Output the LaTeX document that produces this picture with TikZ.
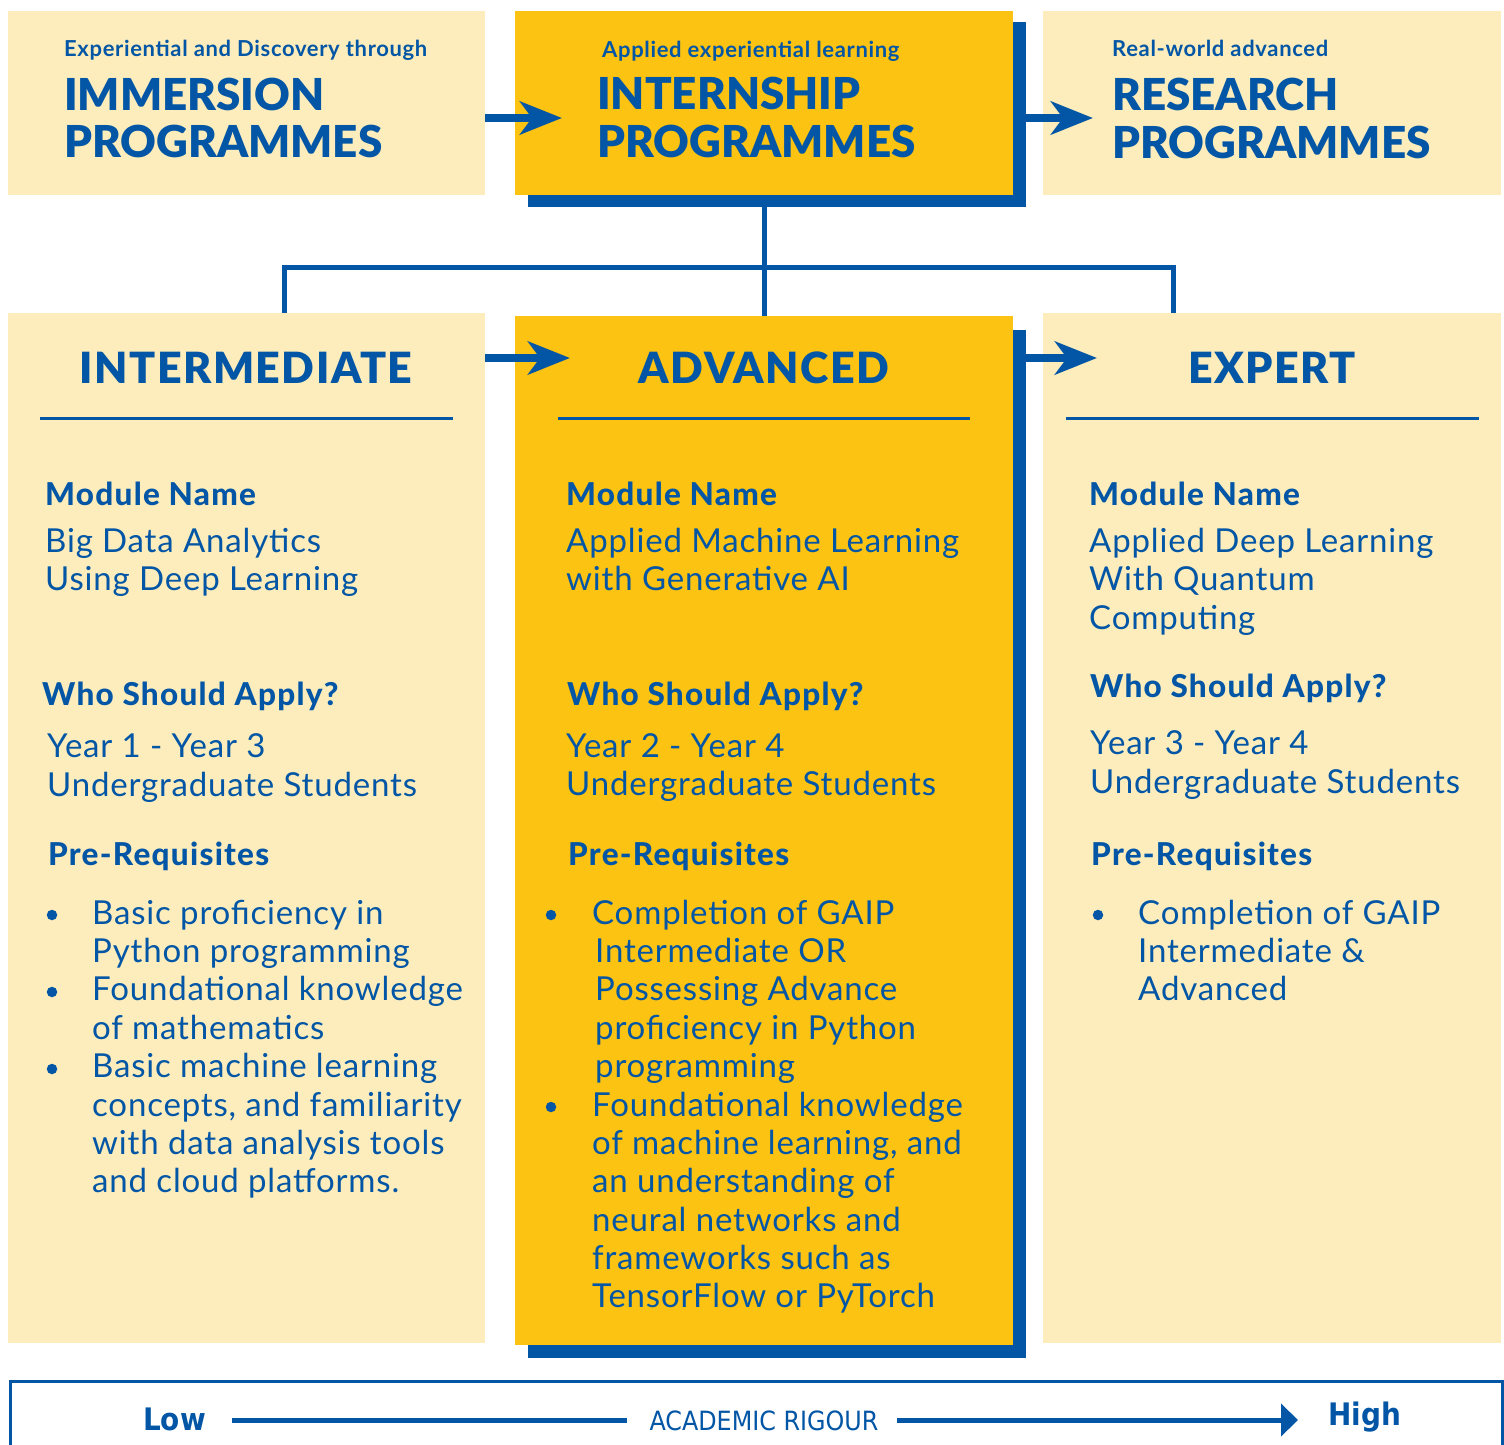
\documentclass[tikz,border=0pt]{standalone}
\usepackage{fontspec}
\usetikzlibrary{arrows.meta}
\setmainfont{Lato}
\IfFontExistsTF{Lato Black}{\newfontfamily\blackf{Lato Black}}{\newcommand\blackf{\bfseries}}
\IfFontExistsTF{Lato Heavy}{\newfontfamily\heavyf{Lato Heavy}[LetterSpace=4]}{\newfontfamily\heavyf{Lato}[LetterSpace=4]\let\oldheavyf\heavyf\renewcommand\heavyf{\oldheavyf\bfseries}}
\newfontfamily\bodyf{Lato}[LetterSpace=2.5]
\newfontfamily\subf{Lato}[LetterSpace=3]
\IfFontExistsTF{Lato Black}{\newfontfamily\colf{Lato Black}[LetterSpace=3.5]}{\newfontfamily\colf{Lato}[LetterSpace=3.5]}
\IfFontExistsTF{DejaVu Sans Condensed}{\newfontfamily\condf{DejaVu Sans Condensed}}{\newfontfamily\condf{Liberation Sans}}
\definecolor{lightyel}{HTML}{FDEDBC}
\definecolor{yel}{HTML}{FDC312}
\definecolor{myblue}{HTML}{0256A5}
\tikzset{
  lbox/.style={fill=lightyel, draw=none, anchor=north west, inner sep=0pt},
  ybox/.style={fill=yel, draw=none, anchor=north west, inner sep=0pt},
  shadowbox/.style={fill=myblue, draw=none, anchor=north west, inner sep=0pt},
  txt/.style={anchor=base west, inner sep=0pt, text=myblue},
  subt/.style={txt, font=\subf\bfseries\fontsize{22}{24}\selectfont},
  bigt/.style={txt, font=\blackf\fontsize{44}{48}\selectfont},
  colh/.style={anchor=base, inner sep=0pt, text=myblue, font=\colf\fontsize{43}{46}\selectfont},
  sech/.style={txt, font=\heavyf\fontsize{31.5}{36}\selectfont},
  body/.style={txt, font=\bodyf\fontsize{33}{38}\selectfont},
  dot/.style={circle, fill=myblue, draw=none, inner sep=0pt, minimum size=10.5pt},
  conn/.style={draw=myblue, line width=5pt},
  bigarrow/.style={draw=myblue, line width=8pt, -{Stealth[length=42pt, width=33pt, inset=12pt]}},
  rule/.style={draw=myblue, line width=3pt},
  axisline/.style={draw=myblue, line width=5pt},
}
\begin{document}
\begin{tikzpicture}[x=1pt,y=-1pt]
\useasboundingbox (0,0) rectangle (1504,1445);
\fill[white] (0,0) rectangle (1504,1445);
% top row
\node[lbox, minimum width=477pt, minimum height=184pt] (imm) at (8,11) {};
\node[shadowbox, minimum width=498pt, minimum height=185pt] (intsh) at (528,22) {};
\node[ybox, minimum width=498pt, minimum height=184pt] (int) at (515,11) {};
\node[lbox, minimum width=458pt, minimum height=184pt] (res) at (1043,11) {};
% bottom row
\node[lbox, minimum width=477pt, minimum height=1030pt] (inter) at (8,313) {};
\node[shadowbox, minimum width=498pt, minimum height=1028pt] (advsh) at (528,330) {};
\node[ybox, minimum width=498pt, minimum height=1029pt] (adv) at (515,316) {};
\node[lbox, minimum width=458pt, minimum height=1030pt] (exp) at (1043,313) {};
% tree connector
\coordinate (hub) at (764,267);
\draw[conn] (int.south |- intsh.south) -- (int.south |- adv.north);
\draw[conn] ([xshift=37.5pt]inter.north) |- (hub) -| ([xshift=-99pt]exp.north);
% arrows
\coordinate (ar1) at (562,118);
\coordinate (ar2) at (1093,118);
\coordinate (ar3) at (570,358);
\coordinate (ar4) at (1097,358);
\draw[bigarrow] (imm.east |- ar1) -- (ar1);
\draw[bigarrow] (intsh.east |- ar2) -- (ar2);
\draw[bigarrow] (inter.east |- ar3) -- (ar3);
\draw[bigarrow] (advsh.east |- ar4) -- (ar4);
% top texts
\node[subt] (s1) at (64,57) {Experiential and Discovery through};
\node[bigt] (b1) at (64,110) {IMMERSION};
\node[bigt] (b2) at (64,157) {PROGRAMMES};
\node[subt] (s2) at (602,58) {Applied experiential learning};
\node[bigt] (b3) at (597,109) {INTERNSHIP};
\node[bigt] (b4) at (597,157) {PROGRAMMES};
\node[subt] (s3) at (1112,57) {Real-world advanced};
\node[bigt] (b5) at (1112,110) {RESEARCH};
\node[bigt] (b6) at (1112,158) {PROGRAMMES};
% column headings
\node[colh] (h1) at (246,383) {INTERMEDIATE};
\node[colh] (h2) at (764,383) {ADVANCED};
\node[colh] (h3) at (1272,383) {EXPERT};
\coordinate (u1a) at (40,418); \coordinate (u1b) at (453,418);
\coordinate (u2a) at (558,418); \coordinate (u2b) at (970,418);
\coordinate (u3a) at (1066,418); \coordinate (u3b) at (1479,418);
\draw[rule] (u1a) -- (u1b);
\draw[rule] (u2a) -- (u2b);
\draw[rule] (u3a) -- (u3b);
% left column
\node[sech] (l1) at (45,505) {Module Name};
\node[body] (l2) at (45,552) {Big Data Analytics};
\node[body] (l3) at (45,590) {Using Deep Learning};
\node[sech] (l4) at (42,705) {Who Should Apply?};
\node[body] (l5) at (47,757) {Year 1 - Year 3};
\node[body] (l6) at (47,796) {Undergraduate Students};
\node[sech] (l7) at (48,865) {Pre-Requisites};
\node[dot] (ld1) at (52,915) {};
\node[dot] (ld2) at (52,992) {};
\node[dot] (ld3) at (52,1069) {};
\node[body] (l8) at (92,924) {Basic proficiency in};
\node[body] (l9) at (92,962) {Python programming};
\node[body] (l10) at (92,1000) {Foundational knowledge};
\node[body] (l11) at (92,1039) {of mathematics};
\node[body] (l12) at (92,1077) {Basic machine learning};
\node[body] (l13) at (92,1116) {concepts, and familiarity};
\node[body] (l14) at (92,1154) {with data analysis tools};
\node[body] (l15) at (92,1192) {and cloud platforms.};
% middle column
\node[sech] (m1) at (566,505) {Module Name};
\node[body] (m2) at (566,552) {Applied Machine Learning};
\node[body] (m3) at (566,590) {with Generative AI};
\node[sech] (m4) at (567,705) {Who Should Apply?};
\node[body] (m5) at (566,757) {Year 2 - Year 4};
\node[body] (m6) at (566,795) {Undergraduate Students};
\node[sech] (m7) at (568,865) {Pre-Requisites};
\node[dot] (md1) at (551,915) {};
\node[dot] (md2) at (551,1107) {};
\node[body] (m8) at (592,924) {Completion of GAIP};
\node[body] (m9) at (595,962) {Intermediate OR};
\node[body] (m10) at (595,1000) {Possessing Advance};
\node[body] (m11) at (595,1039) {proficiency in Python};
\node[body] (m12) at (595,1077) {programming};
\node[body] (m13) at (592,1116) {Foundational knowledge};
\node[body] (m14) at (592,1154) {of machine learning, and};
\node[body] (m15) at (592,1192) {an understanding of};
\node[body] (m16) at (592,1231) {neural networks and};
\node[body] (m17) at (592,1269) {frameworks such as};
\node[body] (m18) at (592,1307) {TensorFlow or PyTorch};
% right column
\node[sech] (r1) at (1089,505) {Module Name};
\node[body] (r2) at (1089,552) {Applied Deep Learning};
\node[body] (r3) at (1089,590) {With Quantum};
\node[body] (r4) at (1089,629) {Computing};
\node[sech] (r5) at (1090,697) {Who Should Apply?};
\node[body] (r6) at (1090,754) {Year 3 - Year 4};
\node[body] (r7) at (1090,793) {Undergraduate Students};
\node[sech] (r8) at (1091,865) {Pre-Requisites};
\node[dot] (rd1) at (1098,915) {};
\node[body] (r9) at (1138,924) {Completion of GAIP};
\node[body] (r10) at (1138,962) {Intermediate \&};
\node[body] (r11) at (1138,1000) {Advanced};
% bottom axis
\draw[myblue, line width=3pt] (10,1460) -- (10,1381) -- (1502,1381) -- (1502,1460);
\node[txt, font=\condf\bfseries\fontsize{31}{34}\selectfont] (low) at (143,1430) {Low};
\node[anchor=base, inner sep=0pt, text=myblue, font=\condf\fontsize{26.5}{28}\selectfont] (acad) at (764,1430) {ACADEMIC RIGOUR};
\node[txt, font=\condf\bfseries\fontsize{31}{34}\selectfont] (high) at (1328,1425) {High};
\coordinate (x1) at (232,1420); \coordinate (x2) at (627,1420);
\coordinate (x3) at (897,1420); \coordinate (x4) at (1298,1420);
\draw[axisline] (x1) -- (x2);
\draw[axisline, -{Triangle[length=17pt, width=32pt]}] (x3) -- (x4);
\end{tikzpicture}
\end{document}
